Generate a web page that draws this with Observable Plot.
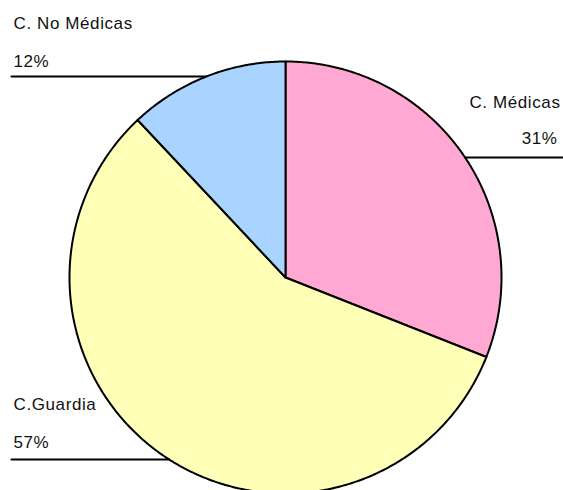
<!DOCTYPE html>
<html>
<head>
<meta charset="utf-8">
<script src="https://cdn.jsdelivr.net/npm/d3@7"></script>
<script src="https://cdn.jsdelivr.net/npm/@observablehq/plot@0.6"></script>
<style>
  html, body { margin: 0; padding: 0; background: #fff; }
  #chart svg { display: block; }
  #chart svg text { letter-spacing: 0.6px; }
</style>
</head>
<body>
<div id="chart"></div>
<script>
// Data
const categories = ["C. Médicas", "C.Guardia", "C. No Médicas"];
const percents = [31, 57, 12];
const colors = ["#FFA8D4", "#FFFFB8", "#A8D4FF"];

// Layout (pixels)
const W = 563, H = 490;
const cx = 285, cy = 277, R = 216;
const labelLayout = {
  "C. Médicas":    {side: "right", nameY: 107, valueY: 143, lineY: 157, textX: 560, valueX: 557, lineEnd: 562},
  "C.Guardia":     {side: "left",  nameY: 409, valueY: 447, lineY: 459, textX: 13,  valueX: 13,  lineEnd: 11},
  "C. No Médicas": {side: "left",  nameY: 28,  valueY: 66,  lineY: 76,  textX: 13,  valueX: 13,  lineEnd: 11}
};

const pie = d3.pie().sort(null).value(d => d.value)(categories.map((c, i) => ({name: c, value: percents[i], color: colors[i]})));

const polyPoints = [];
pie.forEach(a => {
  const n = Math.max(2, Math.ceil((a.endAngle - a.startAngle) / 0.01));
  polyPoints.push({name: a.data.name, color: a.data.color, x: 0, y: 0});
  for (let k = 0; k <= n; k++) {
    const t = a.startAngle + (a.endAngle - a.startAngle) * k / n;
    polyPoints.push({name: a.data.name, color: a.data.color, x: R * Math.sin(t), y: R * Math.cos(t)});
  }
  polyPoints.push({name: a.data.name, color: a.data.color, x: 0, y: 0});
});

const toX = px => px - cx;
const toY = py => cy - py;

const leaders = categories.map(c => {
  const L = labelLayout[c];
  const dy = toY(L.lineY);
  const dx = Math.sqrt(Math.max(0, R * R - dy * dy));
  const xEdge = L.side === "left" ? -dx : dx;
  return [{name: c, x: toX(L.lineEnd), y: dy}, {name: c, x: xEdge, y: dy}];
}).flat();

const labels = categories.flatMap((c, i) => {
  const L = labelLayout[c];
  return [
    {text: c, side: L.side, x: toX(L.textX), y: toY(L.nameY)},
    {text: percents[i] + "%", side: L.side, x: toX(L.valueX), y: toY(L.valueY)}
  ];
});

const font = "'Liberation Sans', Arial, sans-serif";
const chart = Plot.plot({
  width: W,
  height: H,
  margin: 0,
  style: {fontFamily: font, fontSize: "17px", background: "#fff"},
  x: {domain: [toX(0), toX(W)], range: [0, W], axis: null},
  y: {domain: [toY(H), toY(0)], range: [H, 0], axis: null},
  marks: [
    Plot.line(polyPoints, {x: "x", y: "y", z: "name", fill: "color", stroke: "#000", strokeWidth: 2, strokeLinejoin: "round"}),
    Plot.line(leaders, {x: "x", y: "y", z: "name", stroke: "#000", strokeWidth: 2}),
    Plot.text(labels.filter(d => d.side === "left"), {x: "x", y: "y", text: "text", textAnchor: "start", lineAnchor: "bottom", fill: "#111", fontSize: 17}),
    Plot.text(labels.filter(d => d.side === "right"), {x: "x", y: "y", text: "text", textAnchor: "end", lineAnchor: "bottom", fill: "#111", fontSize: 17})
  ]
});
document.getElementById("chart").appendChild(chart);
</script>
</body>
</html>
